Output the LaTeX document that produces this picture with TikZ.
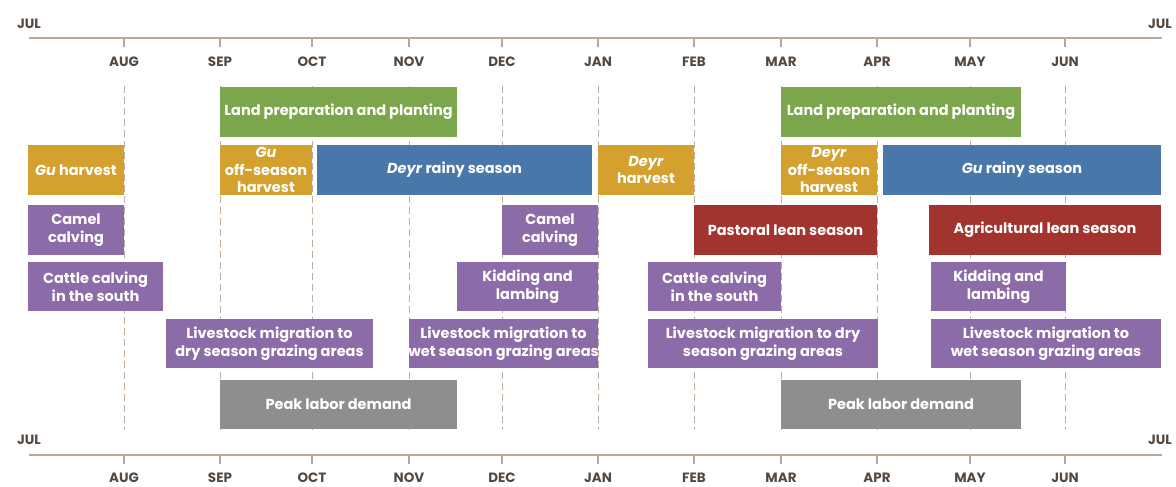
\documentclass[tikz,border=0pt]{standalone}
\usepackage{fontspec}
\setmainfont{Poppins}
\definecolor{cgreen}{HTML}{7CA64B}
\definecolor{corange}{HTML}{D4A12F}
\definecolor{cblue}{HTML}{4A77AA}
\definecolor{cpurple}{HTML}{8C6CA8}
\definecolor{cred}{HTML}{A2332E}
\definecolor{cgray}{HTML}{8E8E8E}
\definecolor{caxis}{HTML}{BCA797}
\definecolor{cdash}{HTML}{C2AC9B}
\definecolor{cmonth}{HTML}{54483F}
\tikzset{
  gb/.style={inner sep=0pt, text=white, font=\fontsize{14.5}{17.5}\selectfont\bfseries, align=center},
  axisline/.style={draw=caxis, line width=1.2pt},
  tick/.style={draw=caxis, line width=1.2pt},
  monthdash/.style={draw=cdash, line width=1pt, dash pattern=on 7pt off 4pt},
  mlabel/.style={text=cmonth, font=\fontsize{13.5}{15}\selectfont\bfseries, inner sep=0pt}
}
\newcommand\gbox[7]{%
  \path[fill=#6] (#2,#3) rectangle (#4,#5);
  \node[gb] (#1) at ({(#2+#4)/2},{(#3+#5)/2}) {#7};}
\begin{document}
\begin{tikzpicture}[x=1pt,y=-1pt]
\useasboundingbox (0,0) rectangle (1176,487);
% month positions
\def\months{AUG/124,SEP/220,OCT/312,NOV/409,DEC/502,JAN/598,FEB/694,MAR/781,APR/877,MAY/970,JUN/1065}
% dashed guides
\foreach \m/\x in \months {
  \coordinate (dt\m) at (\x,86);
  \coordinate (db\m) at (\x,430);
  \draw[monthdash] (dt\m) -- (db\m);
}
% axes
\coordinate (tl) at (29,38); \coordinate (tr) at (1162,38);
\coordinate (bl) at (29,455); \coordinate (br) at (1162,455);
\draw[axisline] (tl) -- (tr);
\draw[axisline] (bl) -- (br);
\foreach \m/\x in \months {
  \coordinate (tt\m) at (\x,38); \coordinate (tb\m) at (\x,47);
  \draw[tick] (tt\m) -- (tb\m);
  \node[mlabel] (lt\m) at (\x,62) {\m};
  \coordinate (bt\m) at (\x,455); \coordinate (bb\m) at (\x,464);
  \draw[tick] (bt\m) -- (bb\m);
  \node[mlabel] (lb\m) at (\x,478) {\m};
}
\node[mlabel] (jultl) at (29,24) {JUL};
\node[mlabel] (jultr) at (1160,24) {JUL};
\node[mlabel] (julbl) at (29,440) {JUL};
\node[mlabel] (julbr) at (1160,440) {JUL};
% row 1
\gbox{lp1}{220}{87}{457}{137}{cgreen}{Land preparation and planting}
\gbox{lp2}{781}{87}{1021}{137}{cgreen}{Land preparation and planting}
% row 2
\gbox{guh}{28}{145}{124}{195}{corange}{\textit{Gu} harvest}
\gbox{guoff}{220}{145}{312}{195}{corange}{\textit{Gu}\\off-season\\harvest}
\gbox{deyrr}{317}{145}{592}{195}{cblue}{\textit{Deyr} rainy season}
\gbox{deyrh}{598}{145}{694}{195}{corange}{\textit{Deyr}\\harvest}
\gbox{deyroff}{781}{145}{877}{195}{corange}{\textit{Deyr}\\off-season\\harvest}
\gbox{gur}{883}{145}{1161}{195}{cblue}{\textit{Gu} rainy season}
% row 3
\gbox{cam1}{28}{205}{124}{255}{cpurple}{Camel\\calving}
\gbox{cam2}{502}{205}{598}{255}{cpurple}{Camel\\calving}
\gbox{pls}{694}{205}{877}{255}{cred}{Pastoral lean season}
\gbox{als}{929}{205}{1161}{255}{cred}{Agricultural lean season}
% row 4
\gbox{cat1}{28}{262}{163}{311}{cpurple}{Cattle calving\\in the south}
\gbox{kid1}{457}{262}{598}{311}{cpurple}{Kidding and\\lambing}
\gbox{cat2}{648}{262}{781}{311}{cpurple}{Cattle calving\\in the south}
\gbox{kid2}{931}{262}{1066}{311}{cpurple}{Kidding and\\lambing}
% row 5
\gbox{mig1}{166}{319}{373}{368}{cpurple}{Livestock migration to\\dry season grazing areas}
\gbox{mig2}{409}{319}{598}{368}{cpurple}{Livestock migration to\\wet season grazing areas}
\gbox{mig3}{648}{319}{878}{368}{cpurple}{Livestock migration to dry\\season grazing areas}
\gbox{mig4}{931}{319}{1161}{368}{cpurple}{Livestock migration to\\wet season grazing areas}
% row 6
\gbox{pk1}{220}{380}{457}{429}{cgray}{Peak labor demand}
\gbox{pk2}{781}{380}{1021}{429}{cgray}{Peak labor demand}
\end{tikzpicture}
\end{document}
